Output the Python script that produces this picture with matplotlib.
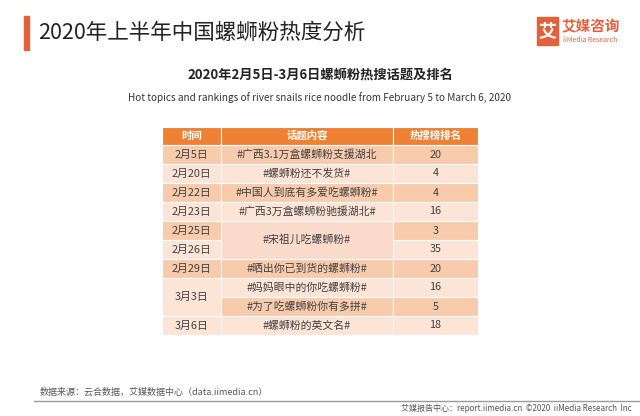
import matplotlib
matplotlib.use("Agg")
import matplotlib.pyplot as plt
from matplotlib.patches import Rectangle

plt.rcParams["font.family"] = ["Noto Sans CJK SC", "DejaVu Sans"]

headers = ["时间", "话题内容", "热搜榜排名"]
dates = ["2月5日", "2月20日", "2月22日", "2月23日", "2月25日", "2月26日", "2月29日", "3月3日", "3月3日", "3月6日"]
topics = ["#广西3.1万盒螺蛳粉支援湖北", "#螺蛳粉还不发货#", "#中国人到底有多爱吃螺蛳粉#",
          "#广西3万盒螺蛳粉驰援湖北#", "#宋祖儿吃螺蛳粉#", "#宋祖儿吃螺蛳粉#", "#晒出你已到货的螺蛳粉#",
          "#妈妈眼中的你吃螺蛳粉#", "#为了吃螺蛳粉你有多拼#", "#螺蛳粉的英文名#"]
ranks = [20, 4, 4, 16, 3, 35, 20, 16, 5, 18]

fig = plt.figure(figsize=(6.4, 4.16), dpi=100)
ax = fig.add_axes([0, 0, 1, 1])
ax.set_xlim(0, 640); ax.set_ylim(416, 0); ax.axis("off")

# header / title
ax.add_patch(Rectangle((24, 16), 5, 34, color="#E2603C"))
ax.text(38, 33, "2020年上半年中国螺蛳粉热度分析", fontsize=15.5, va="center", color="#222222")
ax.add_patch(Rectangle((537, 17), 21, 28, color="#E2603C"))
ax.text(547.5, 31, "艾", fontsize=13, color="white", ha="center", va="center", weight="bold")
ax.text(562, 26, "艾媒咨询", fontsize=10.5, color="#E2603C", va="center", weight="bold")
ax.text(563, 40, "iiMedia Research", fontsize=5, color="#E2603C", va="center")

ax.text(320, 75, "2020年2月5日-3月6日螺蛳粉热搜话题及排名", fontsize=9.5, ha="center", va="center", weight="bold", color="#222222")
ax.text(320, 98, "Hot topics and rankings of river snails rice noodle from February 5 to March 6, 2020",
        fontsize=7.2, ha="center", va="center", color="#333333")

# table
cols = [162, 221, 393, 478]
top, hh, rh = 127, 18, 19
dark, light, mid = "#F8CBAD", "#FCE4D6", "#FADACB"
tc = "#404040"
fs = 7.8
for j, h in enumerate(headers):
    ax.add_patch(Rectangle((cols[j], top), cols[j+1]-cols[j], hh, facecolor="#EE8134", edgecolor="white", lw=0.8))
    ax.text((cols[j]+cols[j+1])/2, top+hh/2, h, fontsize=7.5, color="white", weight="bold", ha="center", va="center")

y0 = top + hh
n = len(dates)
for i in range(n):
    y = y0 + i*rh
    c = dark if i % 2 == 0 else light
    # date
    if i == 8:
        pass
    elif i == 7:
        ax.add_patch(Rectangle((cols[0], y), cols[1]-cols[0], 2*rh, facecolor=light, edgecolor="white", lw=0.8))
        ax.text((cols[0]+cols[1])/2, y+rh, dates[i], fontsize=fs, color=tc, ha="center", va="center")
    else:
        ax.add_patch(Rectangle((cols[0], y), cols[1]-cols[0], rh, facecolor=c, edgecolor="white", lw=0.8))
        ax.text((cols[0]+cols[1])/2, y+rh/2, dates[i], fontsize=fs, color=tc, ha="center", va="center")
    # topic
    if i == 5:
        pass
    elif i == 4:
        ax.add_patch(Rectangle((cols[1], y), cols[2]-cols[1], 2*rh, facecolor=mid, edgecolor="white", lw=0.8))
        ax.text((cols[1]+cols[2])/2, y+rh, topics[i], fontsize=fs, color=tc, ha="center", va="center")
    else:
        ax.add_patch(Rectangle((cols[1], y), cols[2]-cols[1], rh, facecolor=c, edgecolor="white", lw=0.8))
        ax.text((cols[1]+cols[2])/2, y+rh/2, topics[i], fontsize=fs, color=tc, ha="center", va="center")
    # rank
    ax.add_patch(Rectangle((cols[2], y), cols[3]-cols[2], rh, facecolor=c, edgecolor="white", lw=0.8))
    ax.text((cols[2]+cols[3])/2, y+rh/2, str(ranks[i]), fontsize=fs, color=tc, ha="center", va="center")

# footer
ax.text(40, 392, "数据来源：云合数据，艾媒数据中心（data.iimedia.cn）", fontsize=6.5, color="#555555", va="center")
ax.plot([34, 640], [401, 401], color="#999999", lw=1)
ax.text(632, 408, "艾媒报告中心：report.iimedia.cn  ©2020  iiMedia Research  Inc", fontsize=5.8, color="#555555", ha="right", va="center")

fig.savefig("out.png", dpi=100, facecolor="white")
